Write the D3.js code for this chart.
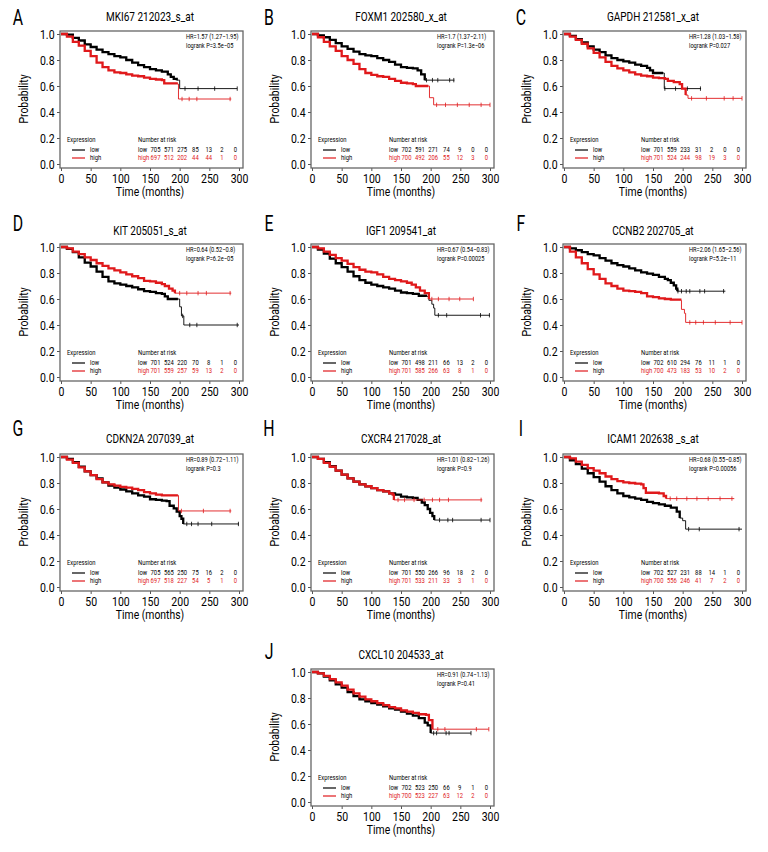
<!DOCTYPE html>
<html><head><meta charset="utf-8">
<script src="https://cdn.jsdelivr.net/npm/d3@7"></script>
<style>
body{margin:0;background:#fff}
svg{display:block}
text{font-family:Roboto,"Noto Sans",sans-serif}
</style>
</head><body>
<svg id="c" width="768" height="852"></svg>
<script>
// ---------------- DATA ----------------
const panelLetters = ["A","B","C","D","E","F","G","H","I","J"];
const geneTitles = ["MKI67 212023_s_at","FOXM1 202580_x_at","GAPDH 212581_x_at","KIT 205051_s_at","IGF1 209541_at","CCNB2 202705_at","CDKN2A 207039_at","CXCR4 217028_at","ICAM1 202638 _s_at","CXCL10 204533_at"];
const hrLabels = ["HR=1.57 (1.27\u22121.95)","HR=1.7 (1.37\u22122.11)","HR=1.28 (1.03\u22121.58)","HR=0.64 (0.52\u22120.8)","HR=0.67 (0.54\u22120.83)","HR=2.06 (1.65\u22122.56)","HR=0.89 (0.72\u22121.11)","HR=1.01 (0.82\u22121.26)","HR=0.68 (0.55\u22120.85)","HR=0.91 (0.74\u22121.13)"];
const logrankLabels = ["logrank P=3.5e\u221205","logrank P=1.3e\u221206","logrank P=0.027","logrank P=6.2e\u221205","logrank P=0.00025","logrank P=5.2e\u221211","logrank P=0.3","logrank P=0.9","logrank P=0.00056","logrank P=0.41"];
const riskLow = [[705,571,275,85,13,2,0],[702,591,271,74,9,0,0],[701,559,233,31,2,0,0],[701,524,220,70,8,1,0],[701,498,211,66,13,2,0],[702,610,294,76,11,1,0],[705,565,250,75,16,2,0],[701,550,266,96,18,2,0],[702,527,231,88,14,1,0],[702,523,250,66,9,1,0]];
const riskHigh = [[697,512,202,44,44,1,0],[700,492,206,55,12,3,0],[701,524,244,98,19,3,0],[701,559,257,59,13,2,0],[701,585,266,63,8,1,0],[700,473,183,53,10,2,0],[697,518,227,54,5,1,0],[701,533,211,33,3,1,0],[700,556,246,41,7,2,0],[700,523,227,63,12,2,0]];
const xTicks = [0,50,100,150,200,250,300];
const yTicks = [0,0.2,0.4,0.6,0.8,1.0];

// survival curves [months, probability]
const lowCurves = [
 [[0,1],[10,.995],[20,.97],[30,.95],[40,.92],[50,.90],[60,.88],[70,.86],[80,.845],[90,.83],[100,.82],[110,.80],[120,.78],[130,.76],[140,.745],[150,.73],[160,.72],[170,.71],[180,.69],[185,.67],[190,.655],[195,.645],[200,.58],[297,.58]],
 [[0,1],[10,.99],[20,.975],[30,.955],[40,.93],[50,.905],[60,.885],[70,.865],[80,.845],[90,.835],[100,.83],[110,.815],[120,.80],[130,.785],[140,.765],[150,.745],[160,.74],[170,.735],[178,.72],[184,.69],[190,.645],[240,.645]],
 [[0,1],[10,.985],[20,.96],[30,.935],[40,.905],[50,.88],[60,.86],[70,.835],[80,.815],[90,.80],[100,.79],[110,.78],[120,.765],[130,.755],[140,.74],[145,.72],[150,.70],[167,.70],[169,.58],[231,.58]],
 [[0,1],[10,.985],[20,.96],[30,.92],[40,.88],[50,.85],[60,.81],[70,.77],[80,.735],[90,.72],[100,.71],[110,.70],[120,.69],[130,.675],[140,.66],[150,.655],[160,.645],[170,.64],[175,.62],[180,.60],[197,.60],[200,.54],[203,.47],[207,.40],[300,.40]],
 [[0,1],[10,.98],[20,.95],[30,.91],[40,.875],[50,.845],[60,.81],[70,.775],[80,.745],[90,.725],[100,.71],[110,.70],[120,.69],[130,.68],[140,.665],[150,.65],[160,.645],[170,.64],[180,.625],[192,.62],[197,.59],[202,.56],[205,.53],[207,.475],[300,.475]],
 [[0,1],[10,.99],[20,.975],[30,.96],[40,.945],[50,.935],[60,.915],[70,.895],[80,.875],[90,.86],[100,.85],[110,.835],[120,.82],[130,.805],[140,.795],[150,.785],[160,.77],[170,.755],[175,.745],[180,.725],[185,.705],[189,.68],[191,.66],[272,.66]],
 [[0,1],[10,.985],[20,.96],[30,.925],[40,.89],[50,.86],[60,.835],[70,.805],[80,.78],[90,.765],[100,.75],[110,.735],[120,.72],[130,.705],[140,.695],[150,.675],[160,.67],[170,.665],[178,.66],[183,.625],[190,.605],[195,.58],[200,.545],[203,.525],[206,.485],[300,.485]],
 [[0,1],[10,.985],[20,.96],[30,.93],[40,.895],[50,.865],[60,.835],[70,.81],[80,.79],[90,.775],[100,.76],[110,.745],[120,.735],[130,.72],[140,.71],[150,.695],[160,.69],[170,.685],[178,.67],[185,.65],[190,.63],[195,.60],[199,.57],[203,.545],[206,.515],[300,.515]],
 [[0,1],[10,.975],[20,.945],[30,.91],[40,.875],[50,.845],[60,.81],[70,.775],[80,.745],[90,.72],[100,.70],[110,.69],[120,.68],[130,.67],[140,.655],[150,.645],[160,.635],[170,.625],[180,.61],[190,.58],[195,.53],[200,.51],[205,.445],[300,.445]],
 [[0,1],[10,.99],[20,.965],[30,.935],[40,.905],[50,.88],[60,.845],[70,.815],[80,.79],[90,.775],[100,.76],[110,.75],[120,.735],[130,.72],[140,.71],[150,.695],[160,.68],[170,.665],[180,.645],[190,.61],[195,.59],[200,.53],[268,.53]]
];
const highCurves = [
 [[0,1],[10,.98],[20,.94],[30,.91],[40,.87],[50,.83],[60,.78],[70,.745],[80,.72],[90,.705],[100,.70],[110,.69],[120,.68],[130,.675],[140,.665],[150,.655],[160,.65],[170,.645],[174,.62],[195,.615],[198,.50],[287,.50]],
 [[0,1],[10,.975],[20,.94],[30,.905],[40,.87],[50,.83],[60,.80],[70,.77],[80,.73],[90,.70],[100,.685],[110,.675],[120,.67],[130,.655],[140,.64],[150,.625],[160,.62],[170,.615],[175,.60],[196,.60],[198,.51],[205,.455],[300,.455]],
 [[0,1],[10,.98],[20,.955],[30,.925],[40,.89],[50,.855],[60,.82],[70,.785],[80,.755],[90,.735],[100,.72],[110,.705],[120,.69],[130,.68],[140,.675],[150,.665],[160,.66],[170,.655],[175,.64],[185,.63],[195,.615],[199,.58],[205,.53],[209,.505],[300,.505]],
 [[0,1],[10,.99],[20,.965],[30,.945],[40,.92],[50,.90],[60,.875],[70,.855],[80,.835],[90,.82],[100,.805],[110,.79],[120,.775],[130,.76],[140,.74],[150,.735],[160,.725],[170,.715],[175,.70],[182,.68],[188,.665],[192,.645],[287,.645]],
 [[0,1],[10,.99],[20,.965],[30,.94],[40,.915],[50,.895],[60,.87],[70,.845],[80,.825],[90,.81],[100,.805],[110,.79],[120,.77],[130,.755],[140,.745],[150,.735],[160,.725],[168,.71],[175,.69],[182,.665],[190,.645],[197,.60],[272,.60]],
 [[0,1],[10,.965],[20,.92],[30,.875],[40,.83],[50,.79],[60,.755],[70,.72],[80,.70],[90,.68],[100,.665],[110,.66],[120,.655],[130,.645],[140,.62],[150,.615],[160,.605],[170,.60],[180,.595],[196,.59],[198,.52],[203,.49],[205,.42],[300,.42]],
 [[0,1],[10,.98],[20,.955],[30,.92],[40,.89],[50,.86],[60,.83],[70,.805],[80,.79],[90,.78],[100,.77],[110,.765],[120,.755],[130,.745],[140,.73],[150,.72],[160,.71],[170,.705],[197,.705],[198,.585],[287,.585]],
 [[0,1],[10,.985],[20,.955],[30,.925],[40,.895],[50,.865],[60,.835],[70,.81],[80,.79],[90,.775],[100,.76],[110,.745],[120,.735],[130,.72],[136,.71],[138,.67],[287,.67]],
 [[0,1],[10,.99],[20,.965],[30,.94],[40,.915],[50,.895],[60,.875],[70,.85],[80,.83],[90,.815],[100,.805],[110,.80],[120,.795],[130,.79],[134,.76],[138,.725],[160,.72],[168,.70],[172,.68],[287,.68]],
 [[0,1],[10,.99],[20,.97],[30,.945],[40,.92],[50,.895],[60,.865],[70,.835],[80,.81],[90,.79],[100,.775],[110,.76],[120,.745],[130,.73],[140,.72],[150,.705],[160,.695],[170,.685],[180,.675],[192,.67],[197,.63],[203,.56],[298,.56]]
];
// end of densely censored part (months)
const lowDenseEnd = [196,190,167,197,195,191,206,206,195,200];
const highDenseEnd = [195,196,205,192,197,196,197,165,172,203];
// sparse censor marks (months)
const lowCensor = [[209,231,259,297],[193,203,212,232,239],[170,188,208,230],[205,217,229,297],[213,227,284,299],[192,198,206,212,229,237,269],[212,220,231,254,299],[215,229,237,285,300],[210,228,295],[205,210,226,231,268]];
const highCensor = [[204,216,229,285],[210,225,245,265,285,300],[215,240,270,285,300],[200,212,231,245,285],[202,213,231,249,272],[212,222,235,255,280,300],[203,240,285],[145,156,172,189,203,215,230,285],[179,190,207,224,243,263,283],[212,224,277,298]];

// ---------------- LAYOUT ----------------
const svg = d3.select("#c");
const colX = [61,312,564];
const rowY = [34,247,457,672];
const gridPos = [[0,0],[1,0],[2,0],[0,1],[1,1],[2,1],[0,2],[1,2],[2,2],[1,3]];
const letterDy = [-15,-22,-27,-19];
const titleDy = [-16,-15,-17,-16];
const W = 178, H = 130;
const RED = "#e0191b", BLACK = "#000";

// condensed text helper (horizontal squeeze to mimic a condensed face)
function ctext(parent, x, y, str, size, sx, anchor) {
  return parent.append("text")
    .attr("transform", `translate(${x},${y}) scale(${sx},1)`)
    .attr("text-anchor", anchor || "start")
    .attr("dominant-baseline", "middle")
    .attr("font-size", size)
    .text(str);
}

panelLetters.forEach((letter, i) => {
  const [c, r] = gridPos[i];
  const g = svg.append("g").attr("transform", `translate(${colX[c]},${rowY[r]})`);
  const x = d3.scaleLinear().domain([0,300]).range([0,W]);
  const y = d3.scaleLinear().domain([0,1]).range([H,0]);

  // panel letter & title
  ctext(g, -43, letterDy[r], letter, 22, 0.72, "middle");
  ctext(g, 89, titleDy[r], geneTitles[i], 12.5, 0.8, "middle");

  // axes
  const ya = g.append("g").attr("transform","translate(-1,0)")
    .call(d3.axisLeft(y).tickValues(yTicks).tickFormat(d3.format(".1f")).tickSize(3).tickPadding(4));
  const xa = g.append("g").attr("transform",`translate(0,${H+4})`)
    .call(d3.axisBottom(x).tickValues(xTicks).tickSize(3).tickPadding(2));
  [ya, xa].forEach(a => {
    a.select(".domain").remove();
    a.selectAll(".tick line").attr("stroke","#555");
    a.selectAll(".tick text").attr("font-size",13.5).attr("fill","#000")
      .attr("transform","scale(0.78,1)")
      .style("font-family","Roboto,sans-serif");
  });

  // box
  g.append("rect").attr("x",-1).attr("y",-3).attr("width",W+5).attr("height",H+7)
    .attr("fill","none").attr("stroke","#666").attr("stroke-width",1.3);

  // axis titles
  g.append("text").attr("transform",`translate(-36,${H/2}) rotate(-90) scale(0.8,1)`).attr("text-anchor","middle")
    .attr("dominant-baseline","middle").attr("font-size",13).text("Probability");
  ctext(g, 89, 159, "Time (months)", 13, 0.8, "middle");

  // curves
  const line = d3.line().x(d => x(d[0])).y(d => y(d[1])).curve(d3.curveStepAfter);
  const drawCurve = (pts, denseEnd, cens, col) => {
    g.append("path").attr("d", line(pts)).attr("fill","none").attr("stroke",col).attr("stroke-width",0.9);
    g.append("path").attr("d", line(pts.filter(d => d[0] <= denseEnd))).attr("fill","none")
      .attr("stroke",col).attr("stroke-width",2.3);
    cens.forEach(t => {
      const s = pts.filter(d => d[0] <= t).slice(-1)[0][1];
      g.append("line").attr("x1",x(t)).attr("x2",x(t)).attr("y1",y(s)-2.2).attr("y2",y(s)+2.2)
        .attr("stroke",col).attr("stroke-width",0.8);
    });
  };
  drawCurve(lowCurves[i], lowDenseEnd[i], lowCensor[i], BLACK);
  drawCurve(highCurves[i], highDenseEnd[i], highCensor[i], RED);

  // HR text
  ctext(g, 125, 3, hrLabels[i], 7.3, 0.78);
  ctext(g, 125, 12, logrankLabels[i], 7.3, 0.78);

  // legend
  const lg = g.append("g");
  ctext(lg, 6, 106, "Expression", 7.5, 0.78);
  [["low",BLACK,116],["high",RED,124]].forEach(([lab,col,yy]) => {
    lg.append("line").attr("x1",11).attr("x2",24).attr("y1",yy).attr("y2",yy).attr("stroke",col).attr("stroke-width",1.2);
    ctext(lg, 29, yy, lab, 7.5, 0.78);
  });
  ctext(lg, 77, 106, "Number at risk", 7.5, 0.78);
  [[riskLow[i],"low",BLACK,116],[riskHigh[i],"high",RED,124]].forEach(([vals,lab,col,yy]) => {
    ctext(lg, 77, yy, lab, 7.5, 0.78).attr("fill", col);
    vals.forEach((v,j) => {
      ctext(lg, 94.5 + j*13.3, yy, v, 7.5, 0.78, "middle").attr("fill", col);
    });
  });
});
</script>
</body></html>
